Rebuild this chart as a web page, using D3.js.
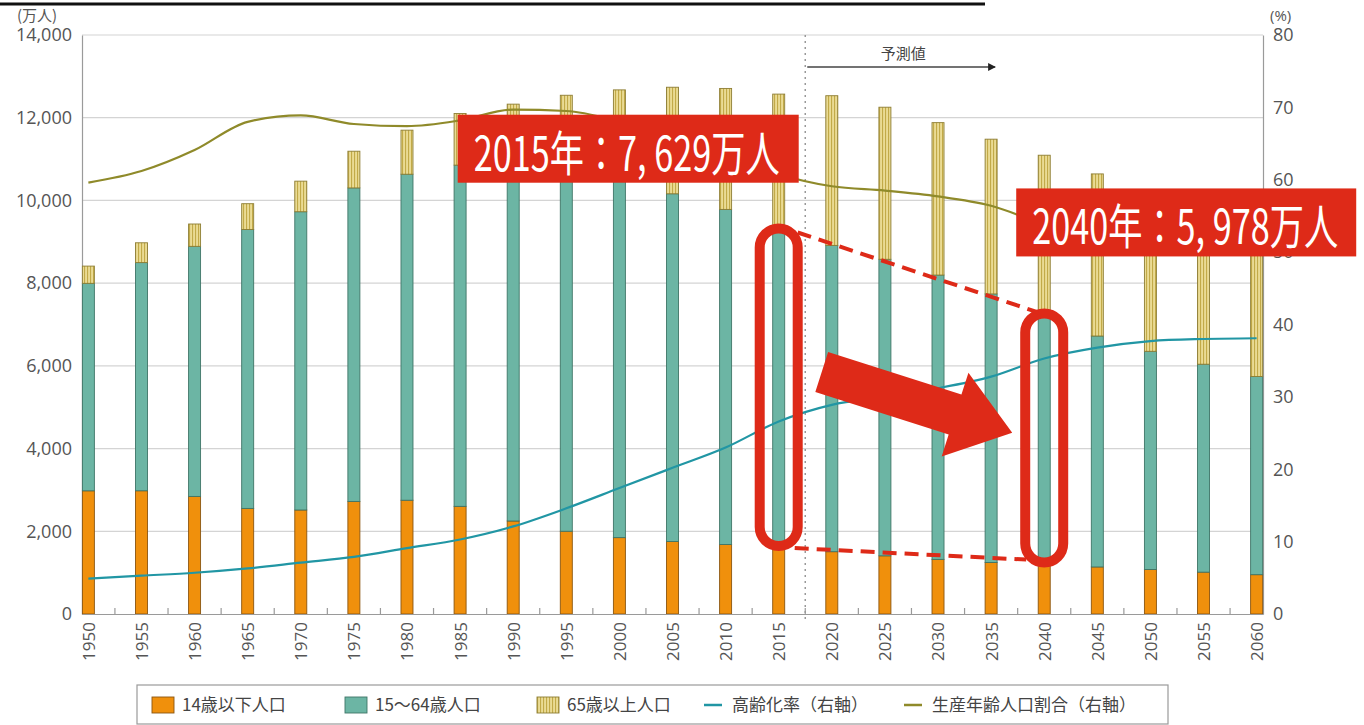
<!DOCTYPE html>
<html>
<head>
<meta charset="utf-8">
<script src="https://cdn.jsdelivr.net/npm/d3@7"></script>
<style>
  html, body { margin: 0; padding: 0; background: #fff; }
  svg { display: block; }
</style>
</head>
<body>
<div id="chart"></div>
<script>
// population by age group (万人) and ratios (%)
const years = [1950, 1955, 1960, 1965, 1970, 1975, 1980, 1985, 1990, 1995, 2000, 2005,
               2010, 2015, 2020, 2025, 2030, 2035, 2040, 2045, 2050, 2055, 2060];
const young   = [2979, 2980, 2843, 2553, 2515, 2722, 2751, 2603, 2249, 2001, 1847, 1752,
                 1680, 1595, 1507, 1407, 1321, 1246, 1194, 1138, 1077, 1012, 951];
const working = [5017, 5517, 6047, 6744, 7212, 7581, 7883, 8251, 8590, 8716, 8622, 8409,
                 8103, 7629, 7406, 7170, 6875, 6494, 5978, 5584, 5275, 5028, 4793];
const elderly = [416, 479, 540, 624, 739, 887, 1065, 1247, 1489, 1826, 2204, 2576,
                 2925, 3347, 3619, 3677, 3685, 3741, 3921, 3919, 3841, 3704, 3540];
const agingRate    = [4.9, 5.3, 5.7, 6.3, 7.1, 7.9, 9.1, 10.3, 12.1, 14.6, 17.4, 20.2,
                      23.0, 26.6, 28.9, 30.0, 31.2, 32.8, 35.3, 36.8, 37.7, 38.0, 38.1];
const workingShare = [59.6, 61.2, 64.1, 68.0, 68.9, 67.7, 67.4, 68.2, 69.7, 69.5, 68.1, 66.1,
                      63.8, 60.8, 59.1, 58.5, 57.7, 56.4, 53.9, 52.5, 51.8, 51.6, 51.6];
const leftTicks  = [0, 2000, 4000, 6000, 8000, 10000, 12000, 14000];
const rightTicks = [0, 10, 20, 30, 40, 50, 60, 70, 80];
const seriesKeys = ["young", "working", "elderly"];
const legendLabels = ["14歳以下人口", "15～64歳人口", "65歳以上人口", "高齢化率（右軸）", "生産年齢人口割合（右軸）"];
const notes = [
  { year: 2015, text: "2015年：7, 629万人" },
  { year: 2040, text: "2040年：5, 978万人" }
];

const W = 1364, H = 725;
const margin = { top: 35, right: 101, bottom: 111, left: 82 };
const plotR = W - margin.right, plotB = H - margin.bottom;

const COL = {
  young: "#f0900c", youngLine: "#8a5510",
  working: "#6cb5a4", workingLine: "#3f7567",
  elderly: "#eadb94", elderlyLine: "#8d7d33", stripe: "#c2aa48",
  aging: "#2196a4", share: "#8f8a2a",
  red: "#de2a18", grid: "#d4d4d4", axis: "#9a9a9a", text: "#555"
};
const FONT = "'Open Sans', 'Noto Sans CJK JP', sans-serif";
const JFONT = "'Noto Sans CJK JP', sans-serif";

const rows = years.map((y, i) => ({ year: y, young: young[i], working: working[i], elderly: elderly[i] }));

const x = d3.scalePoint().domain(years).range([margin.left, plotR]).padding(0.12);
const yL = d3.scaleLinear().domain([0, 14000]).range([plotB, margin.top]);
const yR = d3.scaleLinear().domain([0, 80]).range([plotB, margin.top]);

const svg = d3.select("#chart").append("svg").attr("width", W).attr("height", H);

const defs = svg.append("defs");
const pat = defs.append("pattern").attr("id", "stripes")
  .attr("patternUnits", "userSpaceOnUse").attr("width", 3).attr("height", 6);
pat.append("rect").attr("width", 3).attr("height", 6).attr("fill", COL.elderly);
pat.append("rect").attr("x", 0).attr("width", 1.1).attr("height", 6).attr("fill", COL.stripe);

// title underline (title itself is cut off above the frame)
svg.append("line").attr("x1", 0).attr("x2", 985).attr("y1", 4).attr("y2", 4)
  .attr("stroke", "#111").attr("stroke-width", 3);

// grid
svg.append("g").selectAll("line").data(leftTicks.filter(d => d > 0)).join("line")
  .attr("x1", margin.left).attr("x2", plotR)
  .attr("y1", d => yL(d)).attr("y2", d => yL(d))
  .attr("stroke", COL.grid).attr("stroke-width", 1.2);

// left axis
const gL = svg.append("g").attr("transform", `translate(${margin.left},0)`)
  .call(d3.axisLeft(yL).tickValues(leftTicks).tickSize(0).tickPadding(10).tickFormat(d3.format(",")));
gL.select(".domain").attr("stroke", COL.axis).attr("stroke-width", 1.2);
gL.selectAll("text").attr("fill", COL.text).style("font-family", FONT).style("font-size", "18px");

// right axis
const gR = svg.append("g").attr("transform", `translate(${plotR},0)`)
  .call(d3.axisRight(yR).tickValues(rightTicks).tickSize(0).tickPadding(10));
gR.select(".domain").attr("stroke", COL.axis).attr("stroke-width", 1.2);
gR.selectAll("text").attr("fill", COL.text).style("font-family", FONT).style("font-size", "18px");

svg.append("text").attr("x", 17).attr("y", 21).text("(万人)")
  .attr("fill", COL.text).style("font-family", JFONT).style("font-size", "15px");
svg.append("text").attr("x", plotR + 7).attr("y", 21).text("(%)")
  .attr("fill", COL.text).style("font-family", FONT).style("font-size", "15px");

// forecast divider
const divX = (x(2015) + x(2020)) / 2;
svg.append("line").attr("x1", divX).attr("x2", divX).attr("y1", margin.top).attr("y2", plotB + 6)
  .attr("stroke", "#999").attr("stroke-width", 1.5).attr("stroke-dasharray", "2,4");
defs.append("marker").attr("id", "tri").attr("viewBox", "0 0 10 10").attr("refX", 9).attr("refY", 5)
  .attr("markerWidth", 6).attr("markerHeight", 6).attr("orient", "auto")
  .append("path").attr("d", "M0,0 L10,5 L0,10 z").attr("fill", "#222");
svg.append("line").attr("x1", divX + 2).attr("x2", x(2035) + 4).attr("y1", 67).attr("y2", 67)
  .attr("stroke", "#444").attr("stroke-width", 1.3).attr("marker-end", "url(#tri)");
svg.append("text").attr("x", (divX + x(2035)) / 2 + 5).attr("y", 59).attr("text-anchor", "middle")
  .text("予測値").attr("fill", "#444").style("font-family", JFONT).style("font-size", "15px");

// bars
const stacked = d3.stack().keys(seriesKeys)(rows);
const fills = { young: COL.young, working: COL.working, elderly: "url(#stripes)" };
const strokes = { young: COL.youngLine, working: COL.workingLine, elderly: COL.elderlyLine };
const bw = 12;
svg.append("g").selectAll("g").data(stacked).join("g")
  .attr("fill", d => fills[d.key]).attr("stroke", d => strokes[d.key]).attr("stroke-width", 0.9)
  .selectAll("rect").data(d => d).join("rect")
  .attr("x", d => x(d.data.year) - bw / 2)
  .attr("width", bw)
  .attr("y", d => yL(d[1]))
  .attr("height", d => yL(d[0]) - yL(d[1]));

// x axis
const gX = svg.append("g").attr("transform", `translate(0,${plotB})`)
  .call(d3.axisBottom(x).tickSize(0).tickPadding(0));
gX.select(".domain").attr("stroke", COL.axis).attr("stroke-width", 1.2);
gX.selectAll("text")
  .attr("transform", "rotate(-90)")
  .attr("x", -8).attr("y", 0).attr("dy", "0.35em")
  .attr("text-anchor", "end")
  .attr("fill", COL.text).style("font-family", FONT).style("font-size", "17px");
const mids = years.slice(1).map((y, i) => (x(y) + x(years[i])) / 2);
svg.append("g").selectAll("line").data(mids).join("line")
  .attr("x1", d => d).attr("x2", d => d).attr("y1", plotB).attr("y2", plotB - 6)
  .attr("stroke", COL.axis).attr("stroke-width", 1.2);

// lines (right axis)
const lineGen = vals => d3.line()
  .x((d, i) => x(years[i])).y(d => yR(d)).curve(d3.curveMonotoneX)(vals);
svg.append("path").attr("d", lineGen(workingShare))
  .attr("fill", "none").attr("stroke", COL.share).attr("stroke-width", 2.2);
svg.append("path").attr("d", lineGen(agingRate))
  .attr("fill", "none").attr("stroke", COL.aging).attr("stroke-width", 2.2);

// annotations
const ann = svg.append("g");
const caps = notes.map(n => {
  const i = years.indexOf(n.year);
  return { cx: x(n.year), top: yL(young[i] + working[i]) - 4, bot: yL(young[i]) - 2 };
});
ann.selectAll("rect.cap").data(caps).join("rect").attr("class", "cap")
  .attr("x", d => d.cx - 19).attr("width", 38)
  .attr("y", d => d.top).attr("height", d => d.bot - d.top)
  .attr("rx", 19).attr("ry", 19)
  .attr("fill", "none").attr("stroke", COL.red).attr("stroke-width", 10);
const [c1, c2] = caps;
const dashes = [
  [c1.cx + 19, c1.top + 4, c2.cx - 6, c2.top - 1],
  [c1.cx + 16, c1.bot + 2, c2.cx - 18, c2.bot - 3]
];
ann.selectAll("line.dash").data(dashes).join("line").attr("class", "dash")
  .attr("x1", d => d[0]).attr("y1", d => d[1]).attr("x2", d => d[2]).attr("y2", d => d[3])
  .attr("stroke", COL.red).attr("stroke-width", 4).attr("stroke-dasharray", "14,8");

// big arrow from 2015 towards 2040
const tail = [c1.cx + 43, yL(5850)], tip = [c2.cx - 32, yL(4380)];
const L = Math.hypot(tip[0] - tail[0], tip[1] - tail[1]);
const ang = Math.atan2(tip[1] - tail[1], tip[0] - tail[0]) * 180 / Math.PI;
const hl = 60, sw = 21, hw = 44;
const arrowPts = [[0, -sw], [L - hl, -sw], [L - hl, -hw], [L, 0], [L - hl, hw], [L - hl, sw], [0, sw]];
ann.append("polygon")
  .attr("points", arrowPts.map(p => p.join(",")).join(" "))
  .attr("transform", `translate(${tail[0]},${tail[1]}) rotate(${ang})`)
  .attr("fill", COL.red);

// labels
const boxes = [
  { x: x(2015) + 20 - 341, y: yL(12000) - 3, w: 341, h: 68, text: notes[0].text },
  { x: x(2040) - 28, y: yL(10000) - 12, w: 340, h: 68, text: notes[1].text }
];
const bg = ann.selectAll("g.box").data(boxes).join("g").attr("class", "box");
bg.append("rect").attr("x", d => d.x).attr("y", d => d.y).attr("width", d => d.w).attr("height", d => d.h)
  .attr("fill", COL.red);
bg.append("text").attr("x", d => d.x + 16).attr("y", d => d.y + 56)
  .attr("textLength", 306).attr("lengthAdjust", "spacingAndGlyphs")
  .attr("fill", "#fff").style("font-family", JFONT).style("font-size", "48px")
  .text(d => d.text);

// legend
const lg = svg.append("g");
lg.append("rect").attr("x", 137).attr("y", 685).attr("width", 1031).attr("height", 39)
  .attr("fill", "#fff").attr("stroke", "#9a9a9a").attr("stroke-width", 1.2);
const legendItems = [
  { kind: "box", fill: COL.young, stroke: COL.youngLine, x: 152, tx: 182 },
  { kind: "box", fill: COL.working, stroke: COL.workingLine, x: 345, tx: 375 },
  { kind: "box", fill: "url(#stripes)", stroke: COL.elderlyLine, x: 537, tx: 567 },
  { kind: "line", color: COL.aging, x: 704, tx: 732 },
  { kind: "line", color: COL.share, x: 904, tx: 932 }
];
const li = lg.selectAll("g.item").data(legendItems).join("g").attr("class", "item");
li.filter(d => d.kind === "box").append("rect")
  .attr("x", d => d.x).attr("y", 697).attr("width", 22).attr("height", 16)
  .attr("fill", d => d.fill).attr("stroke", d => d.stroke).attr("stroke-width", 0.9);
li.filter(d => d.kind === "line").append("line")
  .attr("x1", d => d.x).attr("x2", d => d.x + 18).attr("y1", 705).attr("y2", 705)
  .attr("stroke", d => d.color).attr("stroke-width", 2.5);
li.append("text").attr("x", d => d.tx).attr("y", 711)
  .attr("fill", "#444").style("font-family", JFONT).style("font-size", "17px")
  .text((d, i) => legendLabels[i]);
</script>
</body>
</html>
